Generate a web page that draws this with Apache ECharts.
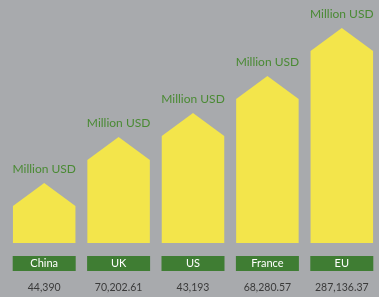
<!DOCTYPE html>
<html><head><meta charset="utf-8">
<script src="https://cdn.jsdelivr.net/npm/echarts@6/dist/echarts.min.js"></script>
<style>html,body{margin:0;padding:0;background:#a8aaad;}#c{width:379px;height:297px;}</style>
</head><body><div id="c"></div>
<script>
var categories = ['China', 'UK', 'US', 'France', 'EU'];
var valueLabels = ['44,390', '70,202.61', '43,193', '68,280.57', '287,136.37'];
// visual heights of the house shapes (peak), as drawn in the picture
var barHeights = [60, 106, 130, 167, 215];
var unitLabel = 'Million USD';

var chart = echarts.init(document.getElementById('c'), null, {renderer: 'canvas'});
chart.setOption({
  backgroundColor: '#a8aaad',
  animation: false,
  grid: {left: 7, right: -4, top: 0, bottom: 54},
  xAxis: {
    type: 'category', data: categories,
    axisLine: {show: false}, axisTick: {show: false},
    axisLabel: {
      margin: 13, interval: 0,
      formatter: function (v, i) { return '{box|' + v + '}\n{val|' + valueLabels[i] + '}'; },
      rich: {
        box: {width: 63, height: 15, lineHeight: 15, backgroundColor: '#3f7d33', color: '#ffffff',
              fontSize: 11, fontFamily: 'Lato', align: 'center'},
        val: {lineHeight: 33, color: '#3a3a3a', fontSize: 10.5, fontFamily: 'Lato', align: 'center'}
      }
    }
  },
  yAxis: {type: 'value', min: 0, max: 243, show: false},
  series: [{
    type: 'custom',
    data: barHeights.map(function (h, i) { return [i, h]; }),
    renderItem: function (params, api) {
      var top = api.coord([api.value(0), api.value(1)]);
      var bot = api.coord([api.value(0), 0]);
      var w = api.size([1, 0])[0] * 0.84;
      var cx = top[0], l = cx - w / 2, r = cx + w / 2;
      var roof = 23;
      return {
        type: 'group',
        children: [
          {type: 'polygon', shape: {points: [[l, bot[1]], [l, top[1] + roof], [cx, top[1]], [r, top[1] + roof], [r, bot[1]]]},
           style: {fill: '#f3e54b'}},
          {type: 'text', style: {text: unitLabel, x: cx, y: top[1] - 14, align: 'center', verticalAlign: 'middle',
           fill: '#4a8a34', font: '12px Lato'}}
        ]
      };
    }
  }]
});
</script></body></html>
